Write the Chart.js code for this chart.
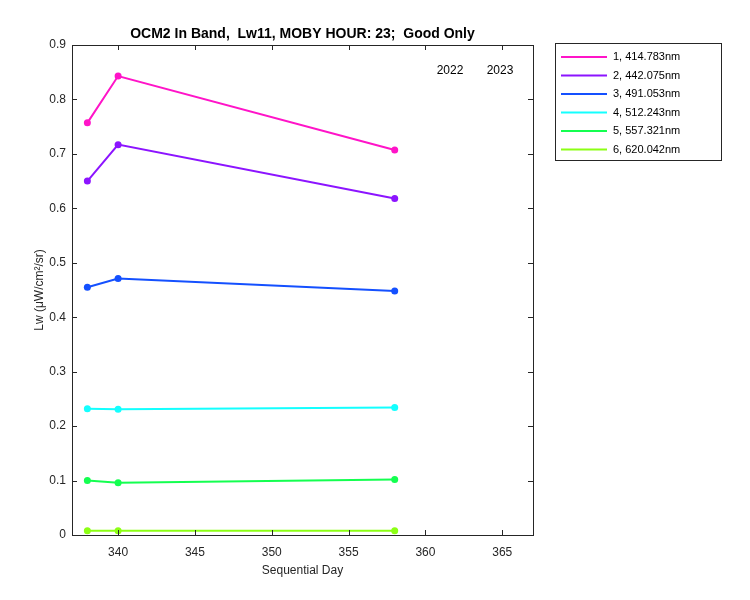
<!DOCTYPE html>
<html><head><meta charset="utf-8">
<script src="https://cdn.jsdelivr.net/npm/chart.js@4"></script>
<style>html,body{margin:0;background:#fff}#c{display:block}</style>
</head><body>
<canvas id="c" width="750" height="600"></canvas>
<script>
const days = [338, 340, 358];
const band1 = [0.757, 0.843, 0.707];
const band2 = [0.650, 0.717, 0.618];
const band3 = [0.455, 0.471, 0.448];
const band4 = [0.232, 0.231, 0.234];
const band5 = [0.100, 0.096, 0.102];
const band6 = [0.008, 0.008, 0.008];
const labels = ['1, 414.783nm', '2, 442.075nm', '3, 491.053nm', '4, 512.243nm', '5, 557.321nm', '6, 620.042nm'];
const colors = ['#ff14c8', '#8c14ff', '#1450ff', '#14ffff', '#14ff50', '#8cff14'];
const series = [band1, band2, band3, band4, band5, band6];
const xTicks = [340, 345, 350, 355, 360, 365];

const font = 'Arial, "Liberation Sans", sans-serif';

const frame = {
  id: 'frame',
  afterDraw(chart) {
    const { ctx, chartArea: a } = chart;
    ctx.save();
    ctx.strokeStyle = '#262626';
    ctx.lineWidth = 1;
    ctx.strokeRect(a.left + 0.5, a.top + 0.5, a.right - a.left, a.bottom - a.top);
    // inward ticks
    const xs = chart.scales.x, ys = chart.scales.y;
    ctx.beginPath();
    xTicks.forEach(v => {
      const px = Math.round(xs.getPixelForValue(v)) + 0.5;
      ctx.moveTo(px, a.bottom); ctx.lineTo(px, a.bottom - 5);
      ctx.moveTo(px, a.top); ctx.lineTo(px, a.top + 5);
    });
    for (let v = 0; v <= 0.9001; v += 0.1) {
      const py = Math.round(ys.getPixelForValue(v)) + 0.5;
      ctx.moveTo(a.left, py); ctx.lineTo(a.left + 5, py);
      ctx.moveTo(a.right, py); ctx.lineTo(a.right - 5, py);
    }
    ctx.stroke();
    // title
    ctx.fillStyle = '#000';
    ctx.font = 'bold 14px ' + font;
    ctx.textAlign = 'center';
    ctx.textBaseline = 'bottom';
    ctx.fillText('OCM2 In Band,  Lw11, MOBY HOUR: 23;  Good Only', (a.left + a.right) / 2, a.top - 4);
    // year labels
    ctx.font = '12px ' + font;
    ctx.textBaseline = 'middle';
    ctx.fillText('2022', 450, 71);
    ctx.fillText('2023', 500, 71);
    // legend
    const lx = 555, ly = 43, lw = 166, lh = 117;
    ctx.fillStyle = '#fff';
    ctx.fillRect(lx, ly, lw, lh);
    ctx.strokeStyle = '#262626';
    ctx.strokeRect(lx + 0.5, ly + 0.5, lw, lh);
    ctx.font = '11px ' + font;
    ctx.textAlign = 'left';
    labels.forEach((t, i) => {
      const y = ly + 14 + i * 18.5;
      ctx.strokeStyle = colors[i];
      ctx.lineWidth = 2;
      ctx.beginPath(); ctx.moveTo(lx + 6, y); ctx.lineTo(lx + 52, y); ctx.stroke();
      ctx.fillStyle = '#000';
      ctx.fillText(t, lx + 58, y);
    });
    ctx.restore();
  }
};

new Chart(document.getElementById('c'), {
  type: 'line',
  data: {
    datasets: series.map((s, i) => ({
      label: labels[i],
      data: s.map((v, j) => ({ x: days[j], y: v })),
      borderColor: colors[i],
      backgroundColor: colors[i],
      borderWidth: 2,
      pointRadius: 3.5,
      pointBorderWidth: 0,
      tension: 0
    }))
  },
  options: {
    responsive: false,
    animation: false,
    layout: { padding: { left: 28, right: 217, top: 45, bottom: 18 } },
    plugins: { legend: { display: false }, title: { display: false }, tooltip: { enabled: false } },
    scales: {
      x: {
        type: 'linear', min: 337, max: 367,
        afterFit: s => { s.height = 47; },
        afterBuildTicks: s => { s.ticks = xTicks.map(v => ({ value: v })); },
        grid: { display: false, drawTicks: false }, border: { display: false },
        ticks: { color: '#262626', font: { size: 12, family: font }, padding: 10 },
        title: { display: true, text: 'Sequential Day', color: '#262626', font: { size: 12, family: font }, padding: { top: 2 } }
      },
      y: {
        min: 0, max: 0.9,
        afterFit: s => { s.width = 44; },
        grid: { display: false, drawTicks: false }, border: { display: false },
        ticks: { stepSize: 0.1, color: '#262626', font: { size: 12, family: font }, padding: 6,
          callback: v => Math.abs(v) < 1e-9 ? '0' : (+v.toFixed(1)).toString() },
        title: { display: true, text: 'Lw (μW/cm²/sr)', color: '#262626', font: { size: 12, family: font } }
      }
    }
  },
  plugins: [frame]
});
</script>
</body></html>
